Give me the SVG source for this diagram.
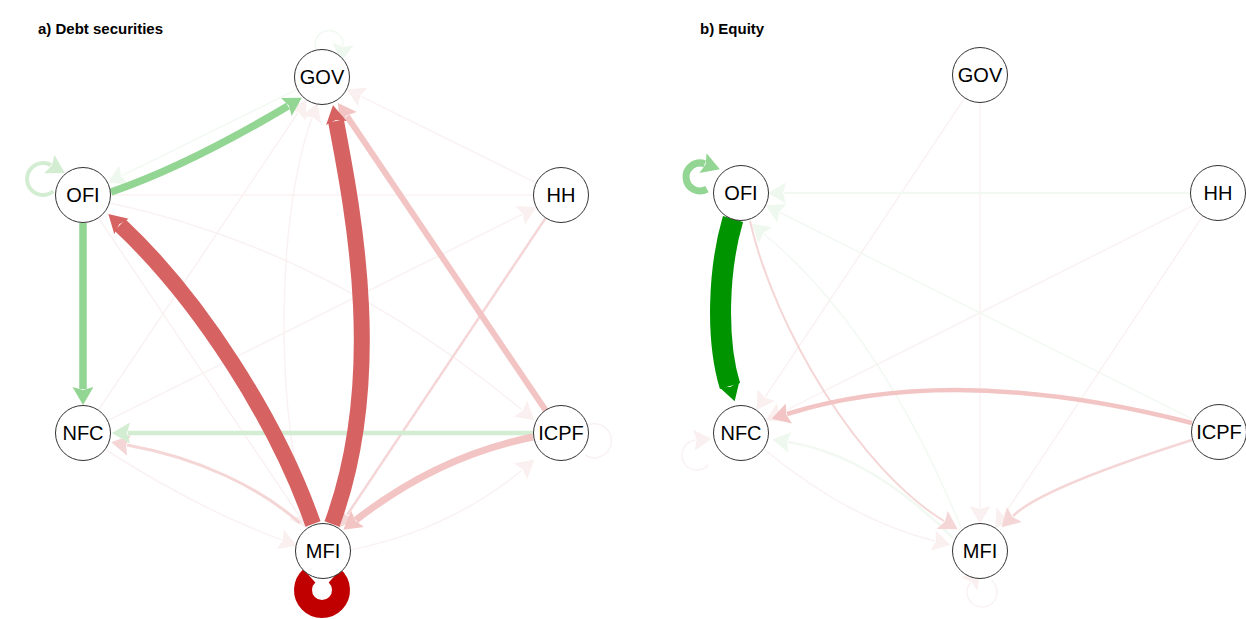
<svg xmlns="http://www.w3.org/2000/svg" width="1246" height="619" viewBox="0 0 1246 619">
<style>
.n circle{fill:#fff;stroke:#333;stroke-width:1}
.n text{font-family:"Liberation Sans",Arial,sans-serif;font-size:20px;text-anchor:middle;fill:#000}
.t{font-family:"Liberation Sans",Arial,sans-serif;font-weight:bold;font-size:15px;fill:#000}
.e{fill:none}
.red{stroke:#D76262}
.dred{stroke:#C00000}
.pink{stroke:#F2C4C4}
.lpink{stroke:#F5D6D6}
.fpink{stroke:#FAF2F2}
.green{stroke:#93D593}
.lgreen{stroke:#D2EDD2}
.fgreen{stroke:#F2F9F2}
.dgreen{stroke:#009400}
</style>
<defs>
<marker id="m-red" markerUnits="userSpaceOnUse" viewBox="0 -11 18 22" markerWidth="18" markerHeight="22" refX="2" refY="0" orient="auto"><path d="M0,-10.5 L18,0 L0,10.5 L3,0 Z" fill="#D76262"/></marker>
<marker id="m-pink" markerUnits="userSpaceOnUse" viewBox="0 -11 18 22" markerWidth="18" markerHeight="22" refX="2" refY="0" orient="auto"><path d="M0,-10.5 L18,0 L0,10.5 L3,0 Z" fill="#F2C4C4"/></marker>
<marker id="m-lpink" markerUnits="userSpaceOnUse" viewBox="0 -11 18 22" markerWidth="18" markerHeight="22" refX="2" refY="0" orient="auto"><path d="M0,-10.5 L18,0 L0,10.5 L3,0 Z" fill="#F5D6D6"/></marker>
<marker id="m-fpink" markerUnits="userSpaceOnUse" viewBox="0 -11 18 22" markerWidth="18" markerHeight="22" refX="2" refY="0" orient="auto"><path d="M0,-10.5 L18,0 L0,10.5 L3,0 Z" fill="#FAF0F0"/></marker>
<marker id="m-green" markerUnits="userSpaceOnUse" viewBox="0 -11 18 22" markerWidth="18" markerHeight="22" refX="2" refY="0" orient="auto"><path d="M0,-10.5 L18,0 L0,10.5 L3,0 Z" fill="#93D593"/></marker>
<marker id="m-lgreen" markerUnits="userSpaceOnUse" viewBox="0 -11 18 22" markerWidth="18" markerHeight="22" refX="2" refY="0" orient="auto"><path d="M0,-10.5 L18,0 L0,10.5 L3,0 Z" fill="#D2EDD2"/></marker>
<marker id="m-fgreen" markerUnits="userSpaceOnUse" viewBox="0 -11 18 22" markerWidth="18" markerHeight="22" refX="2" refY="0" orient="auto"><path d="M0,-10.5 L18,0 L0,10.5 L3,0 Z" fill="#EFF8EF"/></marker>
<marker id="m-dgreen" markerUnits="userSpaceOnUse" viewBox="0 -11 18 22" markerWidth="18" markerHeight="22" refX="2" refY="0" orient="auto"><path d="M0,-10.5 L18,0 L0,10.5 L3,0 Z" fill="#009400"/></marker>
</defs>
<rect width="1246" height="619" fill="#fff"/>
<text class="t" x="38" y="34">a) Debt securities</text>
<text class="t" x="700" y="34">b) Equity</text>
<g id="edges-a">
<path class="e fgreen" stroke-width="1.5" d="M297.3,89.2 L122,175.7" marker-end="url(#m-fgreen)"/>
<path class="e fpink" stroke-width="1.5" d="M536.3,182.8 L361,96.3" marker-end="url(#m-fpink)"/>
<path class="e fpink" stroke-width="1.5" d="M111,195 L533,195"/>
<path class="e fpink" stroke-width="1.5" d="M98.3,410.2 L297.8,113" marker-end="url(#m-fpink)"/>
<path class="e fpink" stroke-width="1.5" d="M310,525 C275,420 275,220 312,118" marker-end="url(#m-fpink)"/>
<path class="e fpink" stroke-width="1.5" d="M98.4,217.8 L298.7,515" marker-end="url(#m-fpink)"/>
<path class="e fpink" stroke-width="1.5" d="M107.6,420.7 L522,214.4" marker-end="url(#m-fpink)"/>
<path class="e fpink" stroke-width="1.5" d="M110,203 Q330,250 522,410" marker-end="url(#m-fpink)"/>
<path class="e fpink" stroke-width="1.5" d="M350,550 Q450,530 522,470" marker-end="url(#m-fpink)"/>
<path class="e fpink" stroke-width="1.5" d="M106,450 Q200,510 282,540" marker-end="url(#m-fpink)"/>
<path class="e fgreen" stroke-width="1.5" d="M318,53 A14,14 0 1 1 343,46" marker-end="url(#m-fgreen)"/>
<path class="e fpink" stroke-width="1.5" d="M588,425 A17,17 0 1 1 585,455"/>
<path class="e lpink" stroke-width="2.5" d="M545.7,217.9 L347.2,514.8" marker-end="url(#m-lpink)"/>
<path class="e lpink" stroke-width="3" d="M300,523 C260,488 200,458 127,445" marker-end="url(#m-lpink)"/>
<path class="e lgreen" stroke-width="4.5" d="M533.5,433 L128,433" marker-end="url(#m-lgreen)"/>
<path class="e pink" stroke-width="6" d="M545.6,410.2 L347,116.3" marker-end="url(#m-pink)"/>
<path class="e pink" stroke-width="7" d="M533,437 Q438,456 356,520" marker-end="url(#m-pink)"/>
<path class="e green" stroke-width="7.5" d="M111,192 Q187,166 288,106" marker-end="url(#m-green)"/>
<path class="e green" stroke-width="7.5" d="M83,223 L83,389" marker-end="url(#m-green)"/>
<path class="e lgreen" stroke-width="4" stroke="#C8EBC8" d="M53.3,191.3 A16,16 0 1 1 51,165.1" marker-end="url(#m-lgreen)"/>
<path class="e red" stroke-width="16" d="M313,524 C277,421 200,300 120,225" marker-end="url(#m-red)"/>
<path class="e red" stroke-width="16" d="M332,524 C385,380 355,220 336,121" marker-end="url(#m-red)"/>
<path class="e dred" stroke-width="18" d="M309.3,575.9 A19,19 0 1 0 334.7,575.9"/>
</g>
<g id="edges-b">
<path class="e fpink" stroke-width="1.5" d="M964.7,97.9 L765.2,396.8" marker-end="url(#m-fpink)"/>
<path class="e fpink" stroke-width="1.5" d="M980,103 L980,508" marker-end="url(#m-fpink)"/>
<path class="e fpink" stroke-width="1.5" d="M1193.4,205.4 L779.9,413.4" marker-end="url(#m-fpink)"/>
<path class="e fgreen" stroke-width="1.5" d="M1193.4,419.7 L780,212.5" marker-end="url(#m-fgreen)"/>
<path class="e fpink" stroke-width="1.5" d="M1202.8,215.9 L1004.1,514.8" marker-end="url(#m-fpink)"/>
<path class="e fgreen" stroke-width="1.5" d="M962,530 Q880,330 764,234" marker-end="url(#m-fgreen)"/>
<path class="e fpink" stroke-width="1.5" d="M765,450 Q850,520 935,541" marker-end="url(#m-fpink)"/>
<path class="e fpink" stroke-width="1.5" d="M708.5,464.6 A15,15 0 1 1 695.7,440.1" marker-end="url(#m-fpink)"/>
<path class="e fpink" stroke-width="1.5" d="M991.6,580.5 A15,15 0 1 1 970.5,582.4" marker-end="url(#m-fpink)"/>
<path class="e fgreen" stroke-width="2.5" stroke="#E6F3E6" d="M953,538 Q870,455 788,442" marker-end="url(#m-fgreen)"/>
<path class="e fgreen" stroke-width="2" stroke="#EEF7EE" d="M1191,193 L784,193" marker-end="url(#m-fgreen)"/>
<path class="e lpink" stroke-width="2.5" stroke="#F8E2E2" d="M1192,440 Q1041,488 1013,516" marker-end="url(#m-lpink)"/>
<path class="e lpink" stroke-width="2" d="M750,221 C775,330 860,470 944,521" marker-end="url(#m-lpink)"/>
<path class="e pink" stroke-width="4.5" stroke="#F2CCCC" d="M1192,423 Q955,362 787,414" marker-end="url(#m-pink)"/>
<path class="e green" stroke-width="7" d="M707,189.1 A14,14 0 1 1 704.8,163.8" marker-end="url(#m-green)"/>
<path class="e dgreen" stroke-width="21" d="M733,219 C718,270 716,340 730,386" marker-end="url(#m-dgreen)"/>
</g>
<g id="node-a-GOV" class="n"><circle cx="322" cy="77" r="27.5"/><text x="322" y="84">GOV</text></g>
<g id="node-a-OFI" class="n"><circle cx="83" cy="195" r="27.5"/><text x="83" y="202">OFI</text></g>
<g id="node-a-HH" class="n"><circle cx="561" cy="195" r="27.5"/><text x="561" y="202">HH</text></g>
<g id="node-a-NFC" class="n"><circle cx="83" cy="433" r="27.5"/><text x="83" y="440">NFC</text></g>
<g id="node-a-ICPF" class="n"><circle cx="561" cy="433" r="27.5"/><text x="561" y="440">ICPF</text></g>
<g id="node-a-MFI" class="n"><circle cx="323" cy="551" r="27.5"/><text x="323" y="558">MFI</text></g>
<g id="node-b-GOV" class="n"><circle cx="980" cy="75" r="27.5"/><text x="980" y="82">GOV</text></g>
<g id="node-b-OFI" class="n"><circle cx="741" cy="193" r="27.5"/><text x="741" y="200">OFI</text></g>
<g id="node-b-HH" class="n"><circle cx="1218" cy="193" r="27.5"/><text x="1218" y="200">HH</text></g>
<g id="node-b-NFC" class="n"><circle cx="741" cy="433" r="27.5"/><text x="741" y="440">NFC</text></g>
<g id="node-b-ICPF" class="n"><circle cx="1219" cy="432" r="27.5"/><text x="1219" y="439">ICPF</text></g>
<g id="node-b-MFI" class="n"><circle cx="980" cy="551" r="27.5"/><text x="980" y="558">MFI</text></g>
</svg>
